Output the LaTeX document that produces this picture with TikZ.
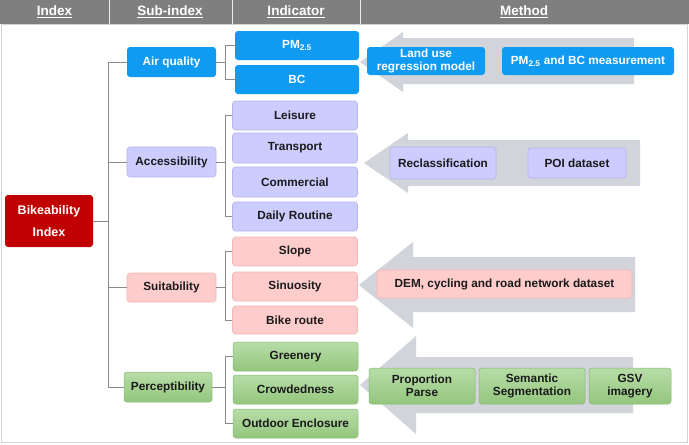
\documentclass[tikz,border=0pt]{standalone}
\usepackage{fontspec}
\setmainfont{Liberation Sans}
\usetikzlibrary{calc}
\definecolor{hdr}{HTML}{7F7F7F}
\definecolor{frm}{HTML}{D4D4D4}
\definecolor{treeline}{HTML}{8A8A8A}
\definecolor{arr}{HTML}{D1D4DA}
\definecolor{bluef}{HTML}{0F9BF2}
\definecolor{lavf}{HTML}{CCCCFF}
\definecolor{lavd}{HTML}{B5B5EC}
\definecolor{pinkf}{HTML}{FFCCCC}
\definecolor{pinkd}{HTML}{F2B8B8}
\definecolor{greent}{HTML}{B8DDA8}
\definecolor{greenb}{HTML}{93C67D}
\definecolor{greend}{HTML}{86B870}
\definecolor{redf}{HTML}{C00000}
\definecolor{txt}{HTML}{1A1A1A}
\tikzset{
  box/.style={rounded corners=3pt, inner sep=0pt, align=center,
    font=\fontsize{11.8}{13}\selectfont\bfseries},
  bluebox/.style={box, fill=bluef, text=white},
  lavbox/.style={box, fill=lavf, draw=lavd, line width=0.6pt, text=txt},
  pinkbox/.style={box, fill=pinkf, draw=pinkd, line width=0.6pt, text=txt},
  greenbox/.style={box, top color=greent, bottom color=greenb, draw=greend, line width=0.5pt, text=txt},
  redbox/.style={box, fill=redf, text=white, font=\fontsize{12.5}{22}\selectfont\bfseries},
  tree/.style={draw=treeline, line width=1pt},
  bigarrow/.style={fill=arr, draw=none},
  hlabel/.style={text=white, font=\fontsize{13.5}{15}\selectfont\bfseries, inner sep=0pt},
  ws/.style={minimum width=#1pt},
  hs/.style={minimum height=#1pt}
}
\begin{document}
\begin{tikzpicture}[x=1pt,y=-1pt]
\useasboundingbox (0,0) rectangle (689,445);
\fill[white] (0,0) rectangle (689,445);
% header
\fill[hdr] (0,0) rectangle (689,24);
\draw[white!85!hdr, line width=1pt] (109,0) -- (109,24) (232,0) -- (232,24) (360,0) -- (360,24);
\node[hlabel] (hidx) at (54.5,12) {\underline{Index}};
\node[hlabel] (hsub) at (170,12) {\underline{Sub-index}};
\node[hlabel] (hind) at (296,12) {\underline{Indicator}};
\node[hlabel] (hmet) at (524,12) {\underline{Method}};
% frame
\draw[frm, line width=1pt] (1,24) rectangle (687.5,442.5);
% big arrows
\path[bigarrow] (360,62) -- (403,32) -- (403,38) -- (634,38) -- (634,84) -- (403,84) -- (403,92) -- cycle;
\path[bigarrow] (364,163) -- (408,133) -- (408,140) -- (640,140) -- (640,186) -- (408,186) -- (408,193) -- cycle;
\path[bigarrow] (359,285) -- (413,242) -- (413,257) -- (635,257) -- (635,312) -- (413,312) -- (413,328) -- cycle;
\path[bigarrow] (360,385) -- (416,336) -- (416,357) -- (633,357) -- (633,413) -- (416,413) -- (416,434) -- cycle;
% index
\node[redbox, ws=88, hs=52] (bi) at (49,221) {Bikeability\\Index};
% sub-index
\node[bluebox, ws=89, hs=30] (aq) at (171.5,62) {Air quality};
\node[lavbox, ws=89, hs=30] (acc) at (171.5,162) {Accessibility};
\node[pinkbox, ws=89, hs=29] (suit) at (171.5,287.5) {Suitability};
\node[greenbox, ws=88, hs=30] (perc) at (168,387) {Perceptibility};
% indicators
\node[bluebox, ws=124, hs=29] (pm) at (297,45.5) {PM\textsubscript{2.5}};
\node[bluebox, ws=124, hs=29] (bc) at (297,79.5) {BC};
\node[lavbox, ws=125, hs=29] (leis) at (295,115.5) {Leisure};
\node[lavbox, ws=125, hs=30] (trans) at (295,148) {Transport};
\node[lavbox, ws=125, hs=30] (comm) at (295,182) {Commercial};
\node[lavbox, ws=125, hs=29] (dr) at (295,216.5) {Daily Routine};
\node[pinkbox, ws=125, hs=29] (slope) at (295,251.5) {Slope};
\node[pinkbox, ws=125, hs=29] (sinu) at (295,286.5) {Sinuosity};
\node[pinkbox, ws=125, hs=28] (bike) at (295,320) {Bike route};
\node[greenbox, ws=125, hs=29] (green) at (295.5,356.5) {Greenery};
\node[greenbox, ws=125, hs=29] (crowd) at (295.5,389.5) {Crowdedness};
\node[greenbox, ws=125, hs=29] (outd) at (295.5,423.5) {Outdoor Enclosure};
% methods
\node[bluebox, ws=118, hs=28] (lur) at (426,61) {Land use\\regression model};
\node[bluebox, ws=172, hs=28] (meas) at (588,61) {PM\textsubscript{2.5} and BC measurement};
\node[lavbox, ws=106, hs=32] (recl) at (443,163) {Reclassification};
\node[lavbox, ws=98, hs=30] (poi) at (577,163) {POI dataset};
\node[pinkbox, ws=255, hs=28] (dem) at (504.5,284) {DEM, cycling and road network dataset};
\node[greenbox, ws=106, hs=36] (prop) at (422,386) {Proportion\\Parse};
\node[greenbox, ws=106, hs=36] (sem) at (532,386) {Semantic\\Segmentation};
\node[greenbox, ws=82, hs=36] (gsv) at (630,386) {GSV\\imagery};
% tree
\coordinate (tr) at (108,0);
\draw[tree] (aq.west) -- (aq.west -| tr) |- (perc.west);
\draw[tree] (acc.west) -- (acc.west -| tr);
\draw[tree] (suit.west) -- (suit.west -| tr);
\draw[tree] (bi.east) -- (bi.east -| tr);
% brackets
\coordinate (br) at (225,0);
\draw[tree] (pm.west) -- (pm.west -| br) |- (bc.west);
\draw[tree] (aq.east) -- (aq.east -| br);
\draw[tree] (leis.west) -- (leis.west -| br) |- (dr.west);
\draw[tree] (acc.east) -- (acc.east -| br);
\draw[tree] (slope.west) -- (slope.west -| br) |- (bike.west);
\draw[tree] (suit.east) -- (suit.east -| br);
\draw[tree] (green.west) -- (green.west -| br) |- (outd.west);
\draw[tree] (perc.east) -- (perc.east -| br);
\end{tikzpicture}
\end{document}
